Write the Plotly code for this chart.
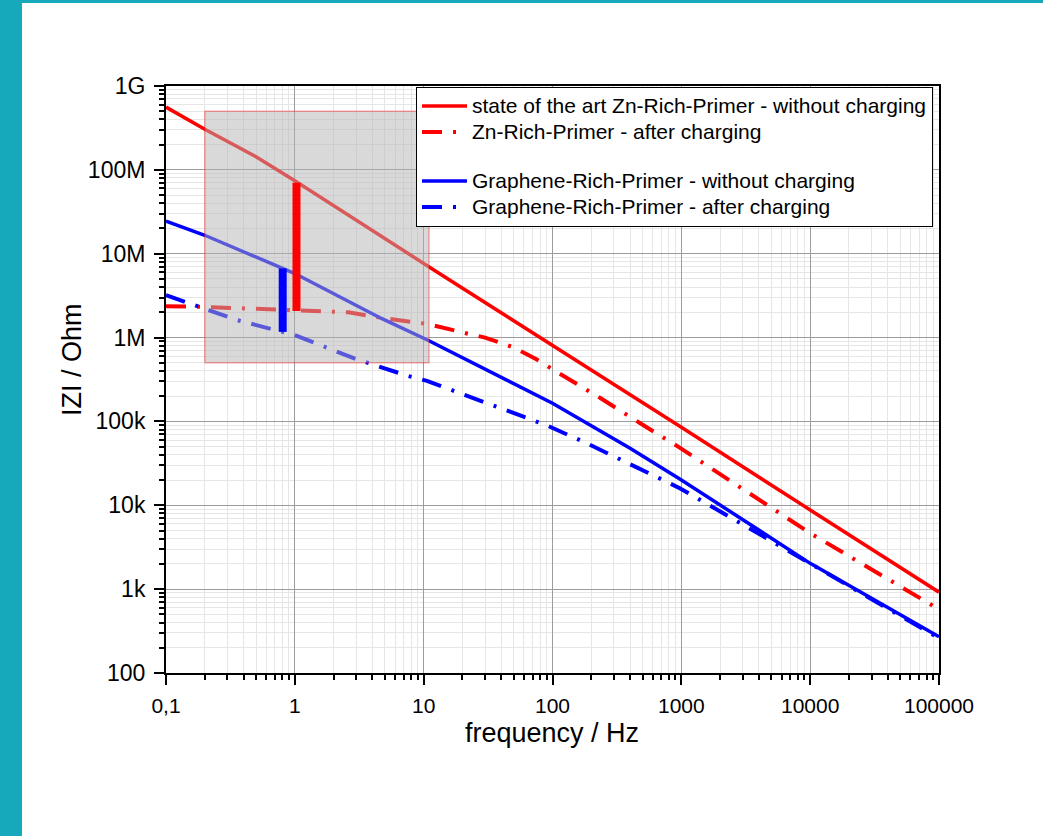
import plotly.graph_objects as go

# Impedance spectra |Z| vs frequency
freq_zn_dry = [0.1, 0.2, 0.5, 1.0, 10.8, 100, 1000, 10000, 100000]
z_zn_dry = [5.6e8, 3.05e8, 1.43e8, 7.4e7, 7.1e6, 8.1e5, 8.5e4, 8.8e3, 9.2e2]

freq_zn_charged = [0.1, 0.2, 1.0, 2.6, 4.7, 7.8, 10.8, 21.6, 30, 40, 49, 60, 75, 108, 235, 480,
                   944, 10000, 100000]
z_zn_charged = [2.37e6, 2.32e6, 2.12e6, 2.0e6, 1.72e6, 1.56e6, 1.45e6, 1.12e6, 1.0e6, 8.6e5,
                7.7e5, 6.6e5, 5.5e5, 3.9e5, 1.9e5, 9.5e4, 5.0e4, 4.65e3, 5.75e2]

freq_gr_dry = [0.1, 0.2, 1.0, 4.7, 10.8, 30, 100, 200, 400, 980, 10000, 100000]
z_gr_dry = [2.45e7, 1.66e7, 5.8e6, 1.69e6, 9.3e5, 4.2e5, 1.65e5, 8.9e4, 4.8e4, 2.05e4, 2.03e3, 2.7e2]

freq_gr_charged = [0.1, 0.17, 0.36, 1.0, 2.93, 7.5, 10.6, 18, 37, 90, 184, 980, 2100, 10000, 100000]
z_gr_charged = [3.2e6, 2.43e6, 1.61e6, 1.07e6, 5.6e5, 3.5e5, 3.05e5, 2.25e5, 1.49e5, 9.0e4,
                5.5e4, 1.59e4, 8.1e3, 2.03e3, 2.6e2]

# highlighted low-frequency window
window_freq = [0.2, 11]
window_z = [5e5, 5e8]

# drop of |Z| after charging, marked at ~1 Hz
drop_zn_freq = 1.03
drop_zn = [7.0e7, 2.08e6]
drop_gr_freq = 0.805
drop_gr = [6.67e6, 1.17e6]

x_tickvals = [0.1, 1, 10, 100, 1000, 10000, 100000]
x_ticktext = ["0,1", "1", "10", "100", "1000", "10000", "100000"]
y_tickvals = [1e2, 1e3, 1e4, 1e5, 1e6, 1e7, 1e8, 1e9]
y_ticktext = ["100", "1k", "10k", "100k", "1M", "10M", "100M", "1G"]

labels = [
    "state of the art Zn-Rich-Primer - without charging",
    "Zn-Rich-Primer - after charging",
    "Graphene-Rich-Primer - without charging",
    "Graphene-Rich-Primer - after charging",
]

RED = "#ff0000"
BLUE = "#0000ff"
DASHDOT = "20px,11px,3px,11px"
FONT = "Liberation Sans, Arial, sans-serif"

W, H = 1043, 836
L, R, T, B = 166, 104, 86, 163
PW, PH = W - L - R, H - T - B


def px_x(p):
    return (p - L) / PW


def px_y(p):
    return (H - B - p) / PH


def legend_name(text):
    # larger glyphs than the compact legend row height
    return f'<span style="font-size:21px">{text}</span>'


fig = go.Figure()

fig.add_trace(go.Scatter(x=freq_zn_dry, y=z_zn_dry, mode="lines", name=legend_name(labels[0]),
                         legendgroup="zn", line=dict(color=RED, width=3.5)))
fig.add_trace(go.Scatter(x=freq_zn_charged, y=z_zn_charged, mode="lines", name=legend_name(labels[1]),
                         legendgroup="zn", line=dict(color=RED, width=4, dash=DASHDOT)))
fig.add_trace(go.Scatter(x=freq_gr_dry, y=z_gr_dry, mode="lines", name=legend_name(labels[2]),
                         legendgroup="gr", line=dict(color=BLUE, width=3.5)))
fig.add_trace(go.Scatter(x=freq_gr_charged, y=z_gr_charged, mode="lines", name=legend_name(labels[3]),
                         legendgroup="gr", line=dict(color=BLUE, width=4, dash=DASHDOT)))

# translucent window over the curves
fig.add_trace(go.Scatter(
    x=[window_freq[0], window_freq[1], window_freq[1], window_freq[0], window_freq[0]],
    y=[window_z[0], window_z[0], window_z[1], window_z[1], window_z[0]],
    mode="lines", fill="toself", fillcolor="rgba(180,180,180,0.5)",
    line=dict(color="rgba(255,0,0,0.35)", width=1.5),
    showlegend=False, hoverinfo="skip"))

fig.add_trace(go.Scatter(x=[drop_zn_freq, drop_zn_freq], y=drop_zn, mode="lines",
                         line=dict(color=RED, width=8), showlegend=False))
fig.add_trace(go.Scatter(x=[drop_gr_freq, drop_gr_freq], y=drop_gr, mode="lines",
                         line=dict(color=BLUE, width=8), showlegend=False))

minor_x = [m * 10 ** e for e in range(-1, 5) for m in range(2, 10)]
minor_y = [m * 10 ** e for e in range(2, 9) for m in range(2, 10)]

axis_common = dict(
    type="log", showline=True, linecolor="black", linewidth=2, mirror=True,
    ticks="outside", ticklen=10, tickwidth=2, tickcolor="black",
    showgrid=True, gridcolor="#9c9c9c", gridwidth=1, zeroline=False,
)

fig.update_xaxes(
    range=[-1, 5], tickmode="array", tickvals=x_tickvals, ticktext=x_ticktext,
    tickfont=dict(family=FONT, size=21, color="black"), ticklabelstandoff=3,
    minor=dict(tickmode="array", tickvals=minor_x, ticks="outside", ticklen=5,
               tickwidth=1.5, tickcolor="black", showgrid=True, gridcolor="#e6e6e6"),
    **axis_common)
fig.update_yaxes(
    range=[2, 9], tickmode="array", tickvals=y_tickvals, ticktext=y_ticktext,
    tickfont=dict(family=FONT, size=23, color="black"), ticklabelstandoff=4,
    minor=dict(tickmode="array", tickvals=minor_y, ticks="outside", ticklen=5,
               tickwidth=1.5, tickcolor="black", showgrid=True, gridcolor="#e6e6e6"),
    **axis_common)

# page frame: teal border with white sheet
fig.add_shape(type="rect", xref="paper", yref="paper", layer="below",
              x0=px_x(22), x1=px_x(W + 5), y0=px_y(H + 5), y1=px_y(3),
              fillcolor="white", line=dict(width=0))

fig.add_annotation(text="frequency / Hz", xref="paper", yref="paper",
                   x=px_x(552), y=px_y(733), showarrow=False,
                   xanchor="center", yanchor="middle",
                   font=dict(family=FONT, size=27, color="black"))
fig.add_annotation(text="IZI / Ohm", xref="paper", yref="paper",
                   x=px_x(72), y=px_y(360), showarrow=False, textangle=-90,
                   xanchor="center", yanchor="middle",
                   font=dict(family=FONT, size=27, color="black"))

fig.update_layout(
    width=W, height=H,
    margin=dict(l=L, r=R, t=T, b=B),
    paper_bgcolor="#15a9bb", plot_bgcolor="white",
    font=dict(family=FONT, color="black"),
    legend=dict(
        x=px_x(416), y=px_y(87), xanchor="left", yanchor="top",
        bgcolor="white", bordercolor="black", borderwidth=1,
        font=dict(family=FONT, size=17.7, color="black"),
        traceorder="grouped", tracegroupgap=23, itemwidth=45,
    ),
    showlegend=True,
)

fig.write_html("out.html")
